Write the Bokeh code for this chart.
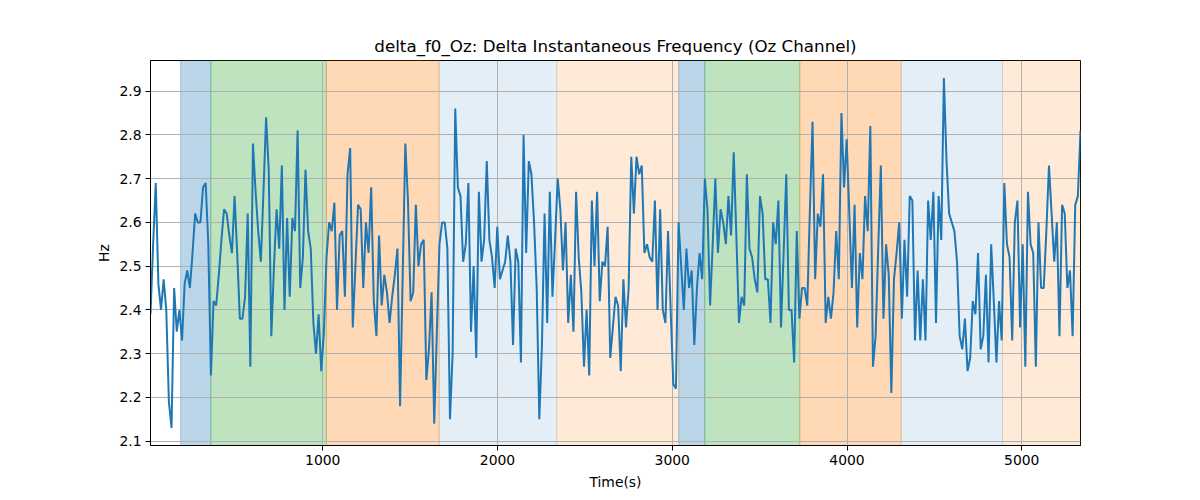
import numpy as np
from bokeh.plotting import figure
from bokeh.models import Range1d, FixedTicker, ColumnDataSource
from bokeh.embed import file_html
from bokeh.resources import INLINE

TITLE = "delta_f0_Oz: Delta Instantaneous Frequency (Oz Channel)"
X_LABEL = "Time(s)"
Y_LABEL = "Hz"

T_START = 14.0
T_END = 5336.0

hz_values = [
    2.39, 2.55, 2.69, 2.46, 2.40, 2.47, 2.40, 2.19, 2.13, 2.45,
    2.35, 2.40, 2.33, 2.46, 2.49, 2.45, 2.53, 2.62, 2.60, 2.60,
    2.68, 2.69, 2.55, 2.25, 2.42, 2.41, 2.48, 2.56, 2.63, 2.62,
    2.57, 2.53, 2.66, 2.53, 2.38, 2.38,
    2.43, 2.62, 2.27, 2.78, 2.67, 2.58, 2.51, 2.67, 2.84, 2.72,
    2.34, 2.50, 2.63, 2.54, 2.73, 2.40, 2.61, 2.43, 2.61, 2.58,
    2.81, 2.45, 2.52, 2.72, 2.58, 2.54, 2.37, 2.30, 2.39, 2.26,
    2.35, 2.52, 2.60, 2.58,
    2.645, 2.40, 2.57, 2.58, 2.43, 2.71, 2.77, 2.36, 2.50, 2.64,
    2.63, 2.45, 2.60, 2.53, 2.68, 2.42, 2.34, 2.57, 2.41, 2.48,
    2.44, 2.37, 2.43, 2.48, 2.54, 2.18, 2.48, 2.78, 2.65, 2.42,
    2.44, 2.64, 2.50, 2.55, 2.56,
    2.24, 2.31, 2.44, 2.14, 2.35, 2.55, 2.60, 2.60, 2.54, 2.15,
    2.30, 2.86, 2.68, 2.66, 2.51, 2.55, 2.69, 2.35, 2.50, 2.29,
    2.67, 2.51, 2.56, 2.74, 2.56, 2.52, 2.45, 2.59, 2.47, 2.49,
    2.51, 2.57, 2.51, 2.32, 2.54, 2.51,
    2.28, 2.80, 2.53, 2.74, 2.71, 2.60, 2.45, 2.15, 2.32, 2.62,
    2.37, 2.67, 2.43, 2.56, 2.70, 2.63, 2.49, 2.60, 2.37, 2.48,
    2.35, 2.67, 2.52, 2.44, 2.27, 2.40, 2.25, 2.65, 2.50, 2.67,
    2.42, 2.51, 2.50, 2.59, 2.29,
    2.36, 2.43, 2.41, 2.26, 2.47, 2.36, 2.45, 2.75, 2.62, 2.75,
    2.71, 2.73, 2.53, 2.55, 2.52, 2.51, 2.65, 2.40, 2.63, 2.40,
    2.37, 2.58, 2.40, 2.23, 2.22, 2.60, 2.50, 2.40, 2.54, 2.45,
    2.49, 2.32, 2.45, 2.53, 2.47,
    2.70, 2.63, 2.41, 2.55, 2.70, 2.53, 2.63, 2.60, 2.55, 2.66,
    2.57, 2.76, 2.57, 2.37, 2.43, 2.41, 2.71, 2.54, 2.52, 2.47,
    2.44, 2.66, 2.62, 2.47, 2.47, 2.37, 2.60, 2.55, 2.65, 2.36,
    2.53, 2.71, 2.40, 2.40, 2.28,
    2.58, 2.38, 2.45, 2.45, 2.41, 2.63, 2.83, 2.47, 2.62, 2.59,
    2.71, 2.37, 2.43, 2.38, 2.44, 2.58, 2.47, 2.85, 2.68, 2.79,
    2.62, 2.45, 2.64, 2.36, 2.53, 2.47, 2.66, 2.58, 2.82, 2.27,
    2.34, 2.54, 2.73, 2.38, 2.55,
    2.48, 2.21, 2.47, 2.53, 2.60, 2.38, 2.56, 2.43, 2.66, 2.65,
    2.33, 2.49, 2.33, 2.47, 2.33, 2.65, 2.56, 2.67, 2.37, 2.66,
    2.56, 2.93, 2.74, 2.62, 2.60, 2.58, 2.51, 2.34, 2.31, 2.38,
    2.26, 2.29, 2.42, 2.39, 2.53,
    2.31, 2.34, 2.48, 2.28, 2.55, 2.42, 2.28, 2.42, 2.33, 2.69,
    2.55, 2.52, 2.33, 2.60, 2.65, 2.36, 2.55, 2.27, 2.67, 2.55,
    2.53, 2.27, 2.60, 2.45, 2.45, 2.58, 2.73, 2.62, 2.51, 2.60,
    2.34, 2.64, 2.62, 2.45, 2.49, 2.34, 2.64, 2.66, 2.81,
]

region_starts = [186, 359, 1021, 1666, 2339, 3037, 3186, 3730, 4310, 4890]
region_ends = [359, 1021, 1666, 2339, 3037, 3186, 3730, 4310, 4890, 5336]
region_kinds = ["blue", "green", "orange", "pale_blue", "pale_orange",
                "blue", "green", "orange", "pale_blue", "pale_orange"]

x_ticks = [1000, 2000, 3000, 4000, 5000]
y_ticks = [2.1, 2.2, 2.3, 2.4, 2.5, 2.6, 2.7, 2.8, 2.9]

KIND_STYLE = {
    "blue": ("#1f77b4", 0.3),
    "green": ("#2ca02c", 0.3),
    "orange": ("#ff7f0e", 0.3),
    "pale_blue": ("#1f77b4", 0.12),
    "pale_orange": ("#ff7f0e", 0.16),
}

times = np.linspace(T_START, T_END, len(hz_values))
vals = np.array(hz_values)
vmin, vmax = vals.min(), vals.max()
pad = 0.05 * (vmax - vmin)

FONT = "DejaVu Sans"

p = figure(
    frame_width=930, frame_height=385,
    min_border_left=150, min_border_right=104,
    min_border_top=60, min_border_bottom=47,
    output_backend="svg", toolbar_location=None,
    x_range=Range1d(T_START, T_END),
    y_range=Range1d(vmin - pad, vmax + pad),
    title=TITLE,
)

span_src = ColumnDataSource(dict(
    left=region_starts,
    right=region_ends,
    color=[KIND_STYLE[k][0] for k in region_kinds],
    alpha=[KIND_STYLE[k][1] for k in region_kinds],
))
p.quad(left="left", right="right", bottom=0, top=10, source=span_src,
       fill_color="color", fill_alpha="alpha",
       line_color="color", line_alpha="alpha", line_width=1, level="image")

p.line(times, vals, line_color="#1f77b4", line_width=2)

p.title.align = "center"
p.title.text_font = FONT
p.title.text_font_size = "16.7px"
p.title.text_font_style = "normal"
p.title.text_color = "black"

for ax in (p.xaxis[0], p.yaxis[0]):
    ax.axis_label_text_font = FONT
    ax.axis_label_text_font_size = "13.9px"
    ax.axis_label_text_font_style = "normal"
    ax.axis_label_text_color = "black"
    ax.major_label_text_font = FONT
    ax.major_label_text_font_size = "13.9px"
    ax.major_label_text_color = "black"
    ax.axis_line_color = "black"
    ax.major_tick_line_color = "black"
    ax.major_tick_out = 5
    ax.major_tick_in = 0
    ax.minor_tick_line_color = None
    ax.major_label_standoff = 4

p.xaxis.axis_label = X_LABEL
p.yaxis.axis_label = Y_LABEL
p.xaxis.ticker = FixedTicker(ticks=x_ticks)
p.yaxis.ticker = FixedTicker(ticks=y_ticks)
p.xaxis.axis_label_standoff = 6
p.yaxis.axis_label_standoff = 4

p.xgrid.ticker = FixedTicker(ticks=x_ticks)
p.ygrid.ticker = FixedTicker(ticks=y_ticks)
for g in (p.xgrid[0], p.ygrid[0]):
    g.grid_line_color = "#b0b0b0"
    g.grid_line_width = 1

p.outline_line_color = "black"
p.outline_line_alpha = 1
p.outline_line_width = 1
p.background_fill_color = "white"
p.border_fill_color = "white"

open("out.html", "w").write(file_html(p, INLINE))
